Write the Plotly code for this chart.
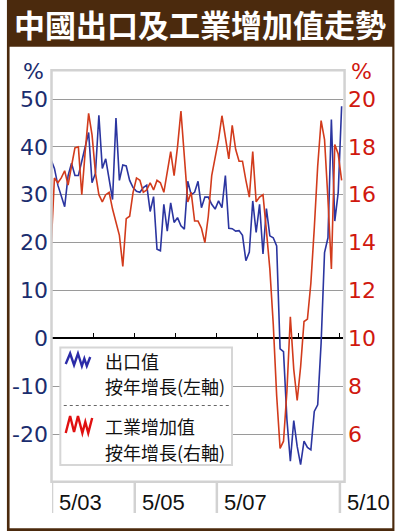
import plotly.graph_objects as go

# ---------------- data (monthly, Apr 2003 .. May 2010; index = month number) ----------------
month_idx = list(range(86))

# 出口值 按年增長 (%), left axis
exports_yoy = [37.3, 35.5, 32.0, 29.5, 27.5, 34.0, 36.6, 34.0, 34.0, 37.0,
               39.8, 43.0, 32.5, 34.5, 46.6, 35.5, 37.5, 33.5, 29.0, 46.0,
               33.0, 36.2, 36.0, 33.0, 31.5, 30.7, 30.5, 31.5, 32.0, 26.5,
               29.6, 18.6, 18.3, 28.0, 22.4, 28.3, 24.2, 25.2, 23.5, 22.8,
               32.8, 30.0, 30.5, 32.8, 27.3, 29.5, 29.5, 28.0, 27.0, 28.7,
               27.3, 34.0, 23.0, 22.9, 22.4, 22.5, 21.5, 16.2, 18.0, 28.7,
               22.1, 28.0, 17.6, 27.1, 21.4, 21.0, 19.3, -2.2, -2.8, -17.0,
               -25.7, -17.2, -22.6, -26.4, -21.5, -22.8, -23.3, -15.3, -13.9, -1.0,
               17.9, 21.0, 45.7, 24.5, 30.5, 48.5]

# 工業增加值 按年增長 (%), right axis
industry_yoy = [13.7, 16.7, 16.5, 16.7, 17.0, 16.4, 17.2, 17.96, 18.0, 16.0,
                17.8, 19.4, 18.5, 16.9, 16.0, 15.7, 16.0, 16.1, 15.4, 14.8,
                14.3, 13.0, 15.0, 15.1, 16.1, 16.7, 16.6, 16.1, 16.2, 16.5,
                16.2, 16.6, 16.5, 16.1, 17.0, 17.8, 16.8, 18.0, 19.5, 17.5,
                15.7, 16.1, 14.9, 14.9, 14.6, 14.0, 15.1, 16.8, 17.6, 18.3,
                19.3, 18.4, 17.5, 18.9, 17.9, 17.4, 17.4, 16.6, 15.9, 17.8,
                15.7, 15.9, 16.0, 14.5, 12.9, 10.6, 7.6, 5.4, 5.7, 7.8,
                10.9, 8.7, 7.4, 8.8, 10.7, 10.8, 12.3, 14.6, 17.2, 19.1,
                18.3, 15.8, 12.9, 18.1, 17.7, 16.6]

left_ticks = [-20, -10, 0, 10, 20, 30, 40, 50]
right_ticks = [6, 8, 10, 12, 14, 16, 18, 20]
year_ticks = [12.5, 24.5, 36.5, 48.5, 60.5, 72.5, 84.5]        # May boundaries
label_pos = [0.3, 24.5, 48.5, 84.5]
label_text = ["5/03", "5/05", "5/07", "5/10"]

title = "中國出口及工業增加值走勢"
legend_lines = [("出口值", "按年增長(左軸)"), ("工業增加值", "按年增長(右軸)")]

# ---------------- geometry ----------------
W, H = 399, 531
ML, MR, MT, MB = 46, 56, 71, 50
PW, PH = W - ML - MR, H - MT - MB
x_range = [0.29, 85.4]
y_range = [-29.82, 55.85]
y2_range = [10 + y_range[0] / 5, 10 + y_range[1] / 5]

BROWN = "#4b2a0d"
NAVY = "#1b2d6e"
RED = "#d0180f"
BLUE_LINE = "#2b35a0"
RED_LINE = "#d23b1c"
FRAME = "#d2d2d2"


def px(x):
    return (x - ML) / PW


def py(y):
    return (H - MB - y) / PH


fig = go.Figure()
fig.add_trace(go.Scatter(x=month_idx, y=exports_yoy, mode="lines",
                         line=dict(color=BLUE_LINE, width=1.6), showlegend=False,
                         hoverinfo="skip"))
fig.add_trace(go.Scatter(x=month_idx, y=industry_yoy, mode="lines", yaxis="y2",
                         line=dict(color=RED_LINE, width=1.6), showlegend=False,
                         hoverinfo="skip"))
# carrier trace for the tick axis drawn on the zero line
fig.add_trace(go.Scatter(x=[None], y=[None], xaxis="x2", showlegend=False,
                         hoverinfo="skip"))

zero_pos = (0 - y_range[0]) / (y_range[1] - y_range[0])

shapes = []
# brown outer frame + white inner panel
shapes.append(dict(type="rect", xref="paper", yref="paper", x0=px(0), x1=px(395.5),
                   y0=py(531), y1=py(0), fillcolor=BROWN, line=dict(width=0), layer="below"))
shapes.append(dict(type="rect", xref="paper", yref="paper", x0=px(2.7), x1=px(393.3),
                   y0=py(528.3), y1=py(46.7), fillcolor="white", line=dict(width=0),
                   layer="below"))
# plot frame
shapes.append(dict(type="rect", xref="paper", yref="paper", x0=px(45.5), x1=px(344.6),
                   y0=py(481.8), y1=py(70.3), line=dict(color=FRAME, width=2.5),
                   fillcolor="rgba(0,0,0,0)", layer="above"))
# separators of the date-label boxes
for p in label_pos:
    shapes.append(dict(type="line", xref="x", yref="paper", x0=p, x1=p,
                       y0=py(513), y1=py(481.8), line=dict(color=FRAME, width=2.5)))
# legend box
shapes.append(dict(type="rect", xref="paper", yref="paper", x0=px(54.5), x1=px(229.7),
                   y0=py(465), y1=py(347.5), fillcolor="white",
                   line=dict(color="#d6d6d6", width=2), layer="above"))
shapes.append(dict(type="line", xref="paper", yref="paper", x0=px(58), x1=px(227),
                   y0=py(405.5), y1=py(405.5),
                   line=dict(color="#666666", width=1, dash="dot"), layer="above"))


def zig(points):
    s = ""
    for i, (a, b) in enumerate(points):
        s += ("M" if i == 0 else "L") + f"{px(a):.5f},{py(b):.5f} "
    return s


blue_icon = [(60, 364), (64.5, 353.5), (68.5, 365), (72.5, 353.5), (76.5, 366),
             (79, 358.5), (81.5, 366), (85, 357)]
red_icon = [(60, 433), (64.5, 416), (68.5, 432), (72.5, 416), (77, 433),
            (80, 422), (83, 433), (87, 418)]
shapes.append(dict(type="path", xref="paper", yref="paper", path=zig(blue_icon),
                   line=dict(color="#2b2ba8", width=2.4), layer="above"))
shapes.append(dict(type="path", xref="paper", yref="paper", path=zig(red_icon),
                   line=dict(color="#e01010", width=2.4), layer="above"))

ann = []
ann.append(dict(text=f"<b>{title}</b>", xref="paper", yref="paper", x=px(197), y=py(24),
                showarrow=False, font=dict(family="Noto Sans CJK TC", size=31, color="white"),
                xanchor="center", yanchor="middle"))
# unit labels
ann.append(dict(text="%", xref="paper", yref="paper", x=px(27), y=py(71), showarrow=False,
                font=dict(family="DejaVu Sans", size=22, color=NAVY),
                xanchor="center", yanchor="middle"))
ann.append(dict(text="%", xref="paper", yref="paper", x=px(362), y=py(71), showarrow=False,
                font=dict(family="DejaVu Sans", size=22, color=RED),
                xanchor="center", yanchor="middle"))
# date labels
for p, t in zip(label_pos, label_text):
    ann.append(dict(text=t, xref="x", yref="paper", x=p, y=py(502), xshift=5,
                    showarrow=False, xanchor="left", yanchor="middle",
                    font=dict(family="Liberation Sans", size=22, color="#111111")))
# legend texts
leg_y = [(360.5, 385.5), (426, 452)]
for (l1, l2), (y1, y2) in zip(legend_lines, leg_y):
    for t, yy in ((l1, y1), (l2, y2)):
        ann.append(dict(text=t, xref="paper", yref="paper", x=px(98), y=py(yy),
                        showarrow=False, xanchor="left", yanchor="middle",
                        font=dict(family="Noto Sans CJK TC", size=18, color="#111111")))

fig.update_layout(
    width=W, height=H,
    margin=dict(l=ML, r=MR, t=MT, b=MB, pad=0),
    paper_bgcolor="white", plot_bgcolor="rgba(0,0,0,0)",
    showlegend=False,
    xaxis=dict(range=x_range, showgrid=False, zeroline=False, showline=False,
               showticklabels=False, ticks=""),
    xaxis2=dict(range=x_range, overlaying="x", anchor="free", position=zero_pos,
                tickmode="array", tickvals=year_ticks, ticks="inside", ticklen=5,
                tickwidth=1, tickcolor="black", showticklabels=False, showgrid=False,
                zeroline=False, showline=False, side="bottom"),
    yaxis=dict(range=y_range, tickmode="array", tickvals=left_ticks,
               ticktext=[str(v) for v in left_ticks], ticks="", ticklabelstandoff=3,
               tickfont=dict(family="DejaVu Sans", size=22, color=NAVY),
               showgrid=True, gridcolor="#9a9a9a", gridwidth=1,
               zeroline=True, zerolinecolor="black", zerolinewidth=1.6, showline=False),
    yaxis2=dict(range=y2_range, overlaying="y", side="right", tickmode="array",
                tickvals=right_ticks, ticktext=[str(v) for v in right_ticks], ticks="",
                ticklabelstandoff=4,
                tickfont=dict(family="DejaVu Sans", size=22, color=RED),
                showgrid=False, zeroline=False, showline=False),
    shapes=shapes, annotations=ann,
)

fig.write_html("out.html", config={"displayModeBar": False},
               post_script="document.body.style.margin='0';")
